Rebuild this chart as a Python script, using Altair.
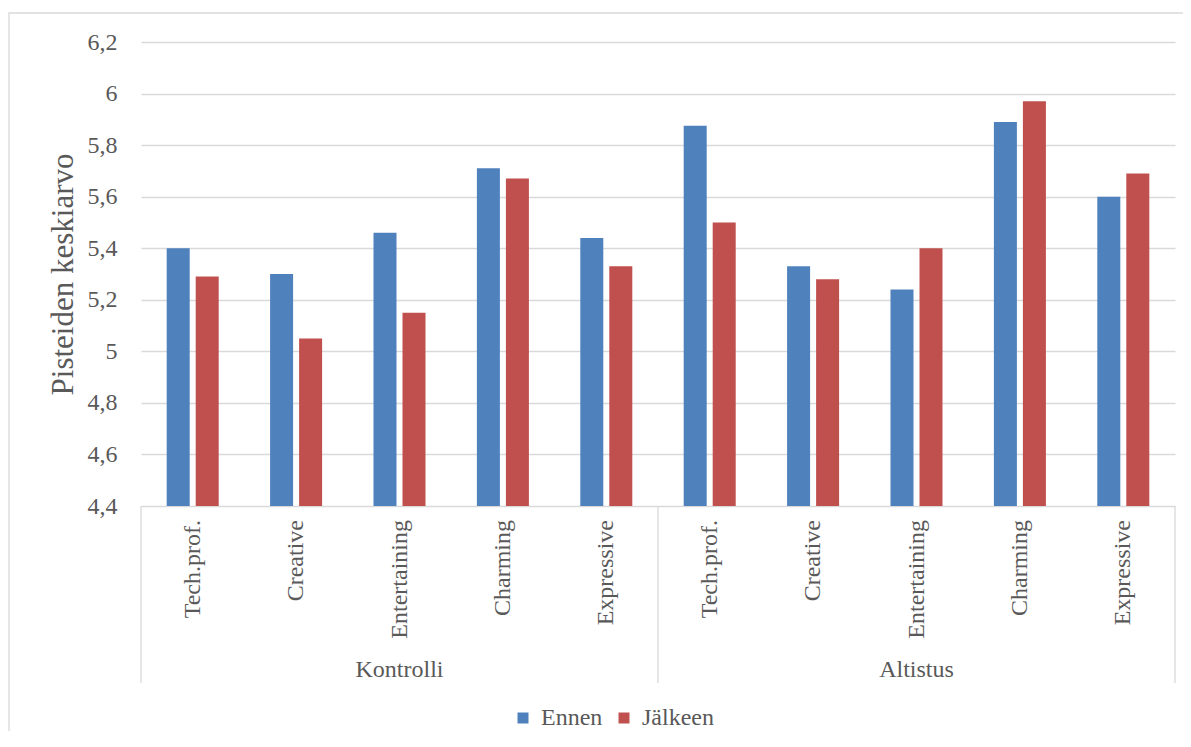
import altair as alt
import pandas as pd

groups = ["Kontrolli", "Altistus"]
categories = ["Tech.prof.", "Creative", "Entertaining", "Charming", "Expressive"]
series = ["Ennen", "Jälkeen"]
colors = ["#4F81BD", "#C0504D"]

kontrolli_ennen = [5.40, 5.30, 5.46, 5.71, 5.44]
kontrolli_jalkeen = [5.29, 5.05, 5.15, 5.67, 5.33]
altistus_ennen = [5.875, 5.33, 5.24, 5.89, 5.60]
altistus_jalkeen = [5.50, 5.28, 5.40, 5.97, 5.69]

y_ticks = [4.4, 4.6, 4.8, 5.0, 5.2, 5.4, 5.6, 5.8, 6.0, 6.2]
y_title = "Pisteiden keskiarvo"

W, H = 1034, 464
FONT = "Liberation Serif"
TXT = "#595959"
GRID = "#d9d9d9"

values = {
    ("Kontrolli", "Ennen"): kontrolli_ennen,
    ("Kontrolli", "Jälkeen"): kontrolli_jalkeen,
    ("Altistus", "Ennen"): altistus_ennen,
    ("Altistus", "Jälkeen"): altistus_jalkeen,
}

keys = [f"{g}|{c}" for g in groups for c in categories]

rows = []
for g in groups:
    for s in series:
        for c, v in zip(categories, values[(g, s)]):
            rows.append({"key": f"{g}|{c}", "group": g, "category": c, "series": s, "value": v})
df = pd.DataFrame(rows)

cat_df = pd.DataFrame([{"key": f"{g}|{c}", "category": c} for g in groups for c in categories])
mid = categories[len(categories) // 2]
grp_df = pd.DataFrame([{"key": f"{g}|{mid}", "group": g} for g in groups])
sep_df = pd.DataFrame({"px": [0, W / 2, W]})
frame_df = pd.DataFrame({"one": [1]})

xscale = alt.Scale(domain=keys, paddingInner=0.497, paddingOuter=0.2485)

bars = alt.Chart(df).mark_bar().encode(
    x=alt.X("key:N", scale=xscale, axis=None, sort=keys),
    xOffset=alt.XOffset("series:N", scale=alt.Scale(domain=series, paddingInner=0.207, paddingOuter=0)),
    y=alt.Y(
        "value:Q",
        scale=alt.Scale(domain=[4.4, 6.2], zero=False, nice=False),
        axis=alt.Axis(
            values=y_ticks,
            labelExpr="replace(format(datum.value, '.1~f'), '.', ',')",
            grid=True, gridColor=GRID, gridWidth=1.3,
            domain=False, ticks=False, labelPadding=24,
            labelFont=FONT, labelFontSize=24, labelColor=TXT,
            title=y_title, titleFont=FONT, titleFontSize=31, titleColor=TXT,
            titleFontWeight="normal", titleX=-69, titleBaseline="alphabetic",
        ),
    ),
    y2=alt.datum(4.4),
    color=alt.Color(
        "series:N",
        scale=alt.Scale(domain=series, range=colors),
        title=None,
        legend=alt.Legend(
            orient="none", legendX=370, legendY=664, direction="horizontal",
            symbolType="square", symbolSize=121, symbolStrokeWidth=0,
            labelFont=FONT, labelFontSize=24, labelColor=TXT,
            labelOffset=6, columnPadding=9,
        ),
    ),
)

cat_labels = alt.Chart(cat_df).mark_text(
    angle=270, align="right", baseline="middle", font=FONT, fontSize=24, color=TXT
).encode(x=alt.X("key:N", scale=xscale, sort=keys), y=alt.value(H + 14), text="category:N")

grp_labels = alt.Chart(grp_df).mark_text(
    align="center", baseline="middle", font=FONT, fontSize=24, color=TXT
).encode(x=alt.X("key:N", scale=xscale, sort=keys), y=alt.value(628), text="group:N")

seps = alt.Chart(sep_df).mark_rule(color=GRID, strokeWidth=1.3).encode(
    x=alt.X("px:Q", scale=None), y=alt.value(H), y2=alt.value(641)
)

frame = alt.Chart(frame_df).mark_rect(fillOpacity=0, stroke=GRID, strokeWidth=1.3).encode(
    x=alt.value(-132), x2=alt.value(W + 60), y=alt.value(-29), y2=alt.value(H + 300)
)

chart = alt.layer(frame, bars, seps, cat_labels, grp_labels).properties(
    width=W, height=H,
    autosize=alt.AutoSizeParams(type="none"),
    padding={"left": 133, "top": 34, "right": 8, "bottom": 225},
).configure(
    font=FONT
).configure_view(
    stroke=None
).configure_axis(
    labelFont=FONT, titleFont=FONT
).configure_legend(
    labelFont=FONT, titleFont=FONT
)

chart.save("out.html", embed_options={"renderer": "svg", "actions": False})
